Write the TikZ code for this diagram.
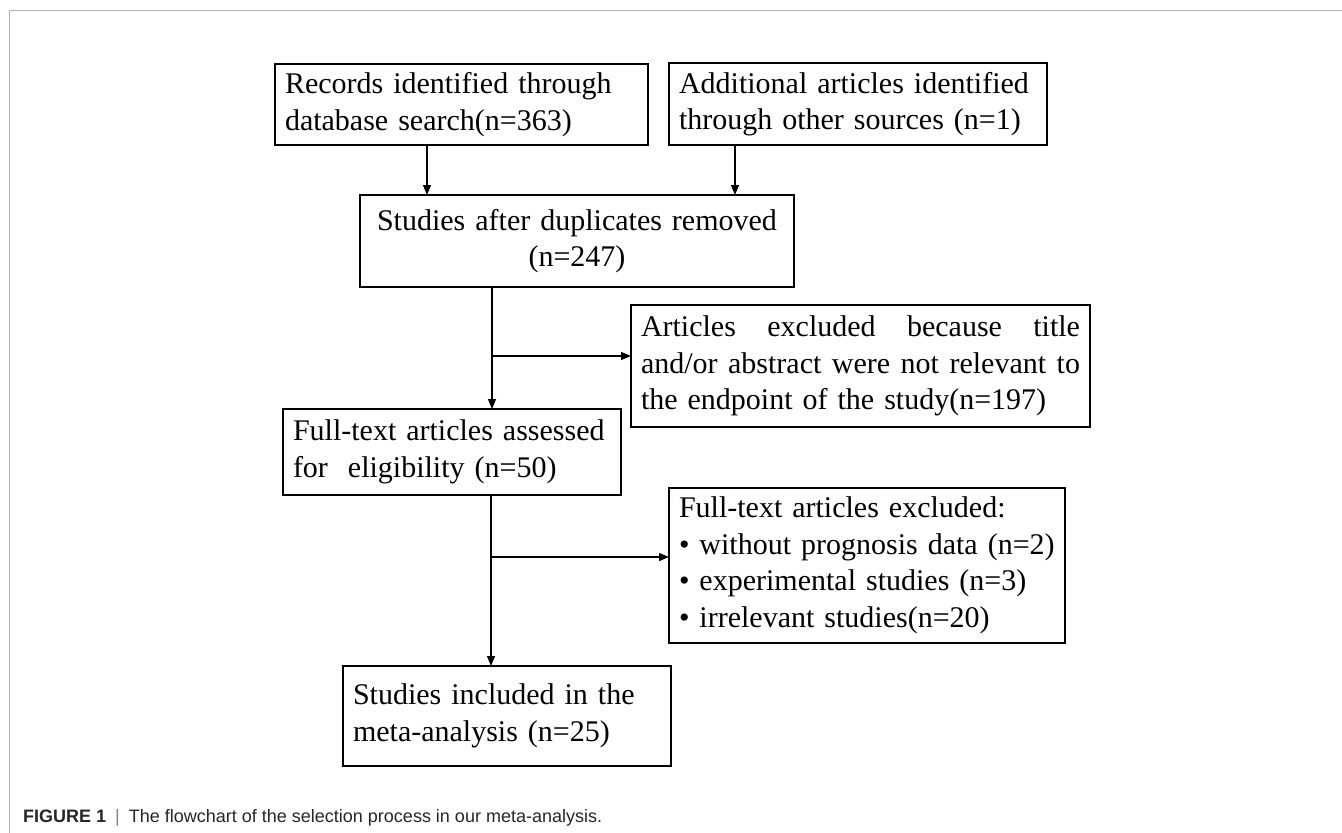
\documentclass[tikz,border=0pt]{standalone}
\usepackage{fontspec}
\setmainfont{Liberation Serif}
\newfontfamily\capfont{Liberation Sans}
\usetikzlibrary{arrows.meta}

\begin{document}
\begin{tikzpicture}[x=1pt,y=-1pt,
    box/.style={draw, line width=1.3pt, inner xsep=10pt, inner ysep=0pt, outer sep=0pt,
                align=left, font=\fontsize{30}{36.5}\selectfont},
    arr/.style={line width=1.2pt, -{Triangle[length=10pt,width=8pt]}}]
                \useasboundingbox (0,0) rectangle (1342,833);
                \draw[gray!60, line width=1pt] (9.5,833) -- (9.5,10.5) -- (1342,10.5);

                % boxes
                \node[box, text width=353pt, minimum height=81pt] (records) at (461.5,104.5)
                    {Records identified through\\database search(n=363)};
                \node[box, text width=358pt, minimum height=82pt] (other) at (858,104)
                    {Additional articles identified\\through other sources (n=1)};
                \node[box, text width=414pt, minimum height=92pt, align=center] (dedup) at (577,241)
                    {Studies after duplicates removed\\(n=247)};
                \node[box, text width=439pt, minimum height=122pt] (screenout) at (860.5,366)
                    {Articles\hfill excluded\hfill because\hfill title\\
                     and/or\hfill abstract\hfill were\hfill not\hfill relevant\hfill to\\
                     the endpoint of the study(n=197)};
                \node[box, text width=318pt, minimum height=86pt] (fulltext) at (452,452)
                    {Full-text articles assessed\\for~~eligibility (n=50)};
                \node[box, text width=376pt, minimum height=155pt] (fullout) at (867,565.5)
                    {\mbox{Full-text articles excluded:}\\
                     \mbox{\textbullet{} without prognosis data (n=2)}\\
                     \mbox{\textbullet{} experimental studies (n=3)}\\
                     \mbox{\textbullet{} irrelevant studies(n=20)}};
                \node[box, text width=308pt, minimum height=100pt] (included) at (507,716)
                    {Studies included in the\\meta-analysis (n=25)\\[10pt]};

                % connectors
                \coordinate (ra) at (427,0);
                \coordinate (oa) at (735,0);
                \coordinate (j1) at (492,356);
                \coordinate (j2) at (491,557);
                \draw[arr] (records.south -| ra) -- (dedup.north -| ra);
                \draw[arr] (other.south -| oa) -- (dedup.north -| oa);
                \draw[arr] (dedup.south -| j1) -- (fulltext.north -| j1);
                \draw[arr] (j1) -- (screenout.west |- j1);
                \draw[arr] (fulltext.south -| j2) -- (included.north -| j2);
                \draw[arr] (j2) -- (fullout.west |- j2);

                \node[anchor=base west, inner sep=0pt, text=black!85,
                      font=\capfont\fontsize{18}{20}\selectfont] (caption) at (23,822)
                    {\textbf{FIGURE 1}\enspace{\color{gray}|}\enspace The flowchart of the selection process in our meta-analysis.};
\end{tikzpicture}
\end{document}
